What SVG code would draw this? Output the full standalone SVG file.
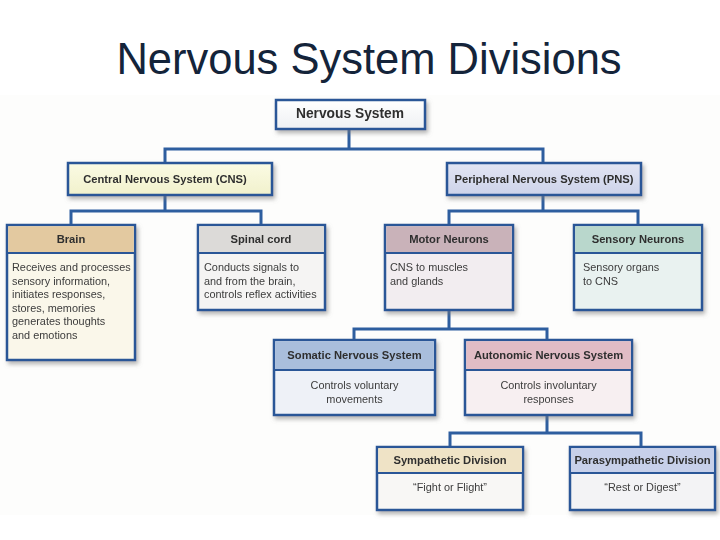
<svg xmlns="http://www.w3.org/2000/svg" width="720" height="540" viewBox="0 0 720 540">
<defs>
<filter id="sh" x="-10%" y="-10%" width="130%" height="140%">
<feDropShadow dx="2" dy="3" stdDeviation="2" flood-color="#7a7a7a" flood-opacity="0.55"/>
</filter>
<linearGradient id="gNS" x1="0" y1="0" x2="0" y2="1"><stop offset="0" stop-color="#ffffff"/><stop offset="1" stop-color="#eef0f3"/></linearGradient>
<linearGradient id="gCNS" x1="0" y1="0" x2="0" y2="1"><stop offset="0" stop-color="#fbfbe4"/><stop offset="1" stop-color="#f1f1cc"/></linearGradient>
<linearGradient id="gPNS" x1="0" y1="0" x2="0" y2="1"><stop offset="0" stop-color="#e2e5f3"/><stop offset="1" stop-color="#cdd3ea"/></linearGradient>
<style>
.box{stroke:#2b5797;stroke-width:2.5}
.div{stroke:#2b5797;stroke-width:2}
.con{fill:none;stroke:#2e5e9f;stroke-width:3;stroke-linejoin:miter}
.h{font-family:"Liberation Sans",Arial,sans-serif;font-weight:bold;font-size:11.2px;fill:#2f2f2f;text-anchor:middle}
.big{font-size:13.8px}
.b{font-family:"Liberation Sans",Arial,sans-serif;font-size:10.9px;fill:#3c3c3c}
.bc{font-family:"Liberation Sans",Arial,sans-serif;font-size:10.9px;fill:#3c3c3c;text-anchor:middle}
</style>
</defs>
<rect x="0" y="0" width="720" height="540" fill="#ffffff"/>
<rect x="0" y="95" width="720" height="420" fill="#fdfdfc"/>
<text x="369" y="74" font-family="'Liberation Sans',Arial,sans-serif" font-size="43.5" fill="#14243a" text-anchor="middle">Nervous System Divisions</text>

<g id="connectors">
<path class="con" d="M349,129 V149 M165,163 V149 H543 V163"/>
<path class="con" d="M165,195 V211 M71,225 V211 H261 V225"/>
<path class="con" d="M543,195 V211 M449,225 V211 H638 V225"/>
<path class="con" d="M449,310 V329 M354,340 V329 H547 V340"/>
<path class="con" d="M547,415 V433 M450,447 V433 H641 V447"/>
</g>

<g id="nervous-system" filter="url(#sh)">
<rect class="box" x="276" y="100" width="149" height="29" fill="url(#gNS)"/>
<text class="h big" x="350" y="117.5">Nervous System</text>
</g>

<g id="cns" filter="url(#sh)">
<rect class="box" x="68" y="163" width="204" height="32" fill="url(#gCNS)"/>
<text class="h" x="165" y="183">Central Nervous System (CNS)</text>
</g>

<g id="pns" filter="url(#sh)">
<rect class="box" x="447" y="163" width="194" height="32" fill="url(#gPNS)"/>
<text class="h" x="544" y="183">Peripheral Nervous System (PNS)</text>
</g>

<g id="brain" filter="url(#sh)">
<rect class="box" x="7" y="225" width="128" height="135" fill="#faf7ea"/>
<rect x="8.25" y="226.25" width="125.5" height="26.75" fill="#e3c9a0"/>
<line class="div" x1="7" y1="253" x2="135" y2="253"/>
<text class="h" x="71" y="243">Brain</text>
<text class="b" x="12" y="271">Receives and processes</text>
<text class="b" x="12" y="284.5">sensory information,</text>
<text class="b" x="12" y="298">initiates responses,</text>
<text class="b" x="12" y="311.5">stores, memories</text>
<text class="b" x="12" y="325">generates thoughts</text>
<text class="b" x="12" y="338.5">and emotions</text>
</g>

<g id="spinal-cord" filter="url(#sh)">
<rect class="box" x="198" y="225" width="127" height="85" fill="#f5f4f3"/>
<rect x="199.25" y="226.25" width="124.5" height="26.75" fill="#dcdad8"/>
<line class="div" x1="198" y1="253" x2="325" y2="253"/>
<text class="h" x="261" y="243">Spinal cord</text>
<text class="b" x="204" y="271">Conducts signals to</text>
<text class="b" x="204" y="284.5">and from the brain,</text>
<text class="b" x="204" y="298">controls reflex activities</text>
</g>

<g id="motor-neurons" filter="url(#sh)">
<rect class="box" x="385" y="225" width="128" height="85" fill="#f2edf0"/>
<rect x="386.25" y="226.25" width="125.5" height="26.75" fill="#c9b2b9"/>
<line class="div" x1="385" y1="253" x2="513" y2="253"/>
<text class="h" x="449" y="243">Motor Neurons</text>
<text class="b" x="390" y="271">CNS to muscles</text>
<text class="b" x="390" y="284.5">and glands</text>
</g>

<g id="sensory-neurons" filter="url(#sh)">
<rect class="box" x="574" y="225" width="128" height="85" fill="#e9f2f0"/>
<rect x="575.25" y="226.25" width="125.5" height="26.75" fill="#b9d7cc"/>
<line class="div" x1="574" y1="253" x2="702" y2="253"/>
<text class="h" x="638" y="243">Sensory Neurons</text>
<text class="b" x="583" y="271">Sensory organs</text>
<text class="b" x="583" y="284.5">to CNS</text>
</g>

<g id="somatic" filter="url(#sh)">
<rect class="box" x="274" y="340" width="161" height="75" fill="#eef1f7"/>
<rect x="275.25" y="341.25" width="158.5" height="28.75" fill="#a9bedc"/>
<line class="div" x1="274" y1="370" x2="435" y2="370"/>
<text class="h" x="354.5" y="359">Somatic Nervous System</text>
<text class="bc" x="354.5" y="389">Controls voluntary</text>
<text class="bc" x="354.5" y="402.5">movements</text>
</g>

<g id="autonomic" filter="url(#sh)">
<rect class="box" x="465" y="340" width="167" height="75" fill="#f7eff1"/>
<rect x="466.25" y="341.25" width="164.5" height="28.75" fill="#e1bcc5"/>
<line class="div" x1="465" y1="370" x2="632" y2="370"/>
<text class="h" x="548.5" y="359">Autonomic Nervous System</text>
<text class="bc" x="548.5" y="389">Controls involuntary</text>
<text class="bc" x="548.5" y="402.5">responses</text>
</g>

<g id="sympathetic" filter="url(#sh)">
<rect class="box" x="377" y="447" width="146" height="63" fill="#f8f7f5"/>
<rect x="378.25" y="448.25" width="143.5" height="24.75" fill="#efe3c6"/>
<line class="div" x1="377" y1="473" x2="523" y2="473"/>
<text class="h" x="450" y="463.5">Sympathetic Division</text>
<text class="bc" x="450" y="491">“Fight or Flight”</text>
</g>

<g id="parasympathetic" filter="url(#sh)">
<rect class="box" x="570" y="447" width="145" height="63" fill="#f3f3f5"/>
<rect x="571.25" y="448.25" width="142.5" height="24.75" fill="#c7d0ea"/>
<line class="div" x1="570" y1="473" x2="715" y2="473"/>
<text class="h" x="642.5" y="463.5">Parasympathetic Division</text>
<text class="bc" x="642.5" y="491">“Rest or Digest”</text>
</g>
</svg>
